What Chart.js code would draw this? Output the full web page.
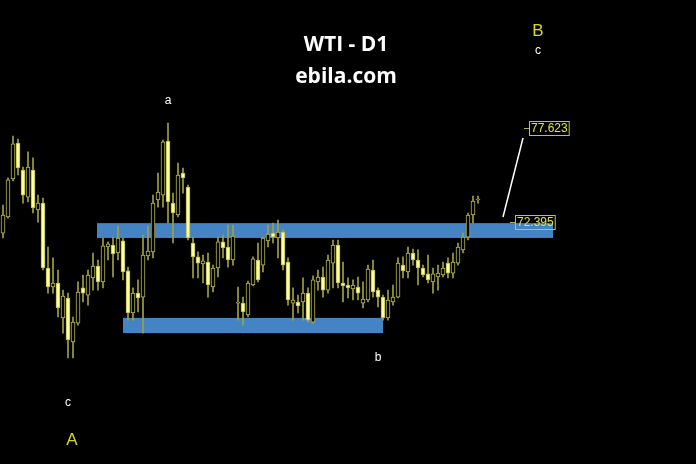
<!DOCTYPE html>
<html>
<head>
<meta charset="utf-8">
<title>WTI - D1</title>
<script src="https://cdn.jsdelivr.net/npm/chart.js@4.4.1/dist/chart.umd.min.js"></script>
<style>
  html, body { margin: 0; padding: 0; background: #000; }
  #wrap { position: relative; width: 696px; height: 464px; }
</style>
</head>
<body>
<div id="wrap"><canvas id="chart"></canvas></div>
<script>
// daily WTI candles
const opens = [71.79,72.68,74.78,76.77,75.28,73.78,75.28,73.07,73.45,69.86, 68.81,69.03,67.10,68.20,65.77,66.81,68.76,68.36,69.31,69.97,
  69.09,71.02,71.13,70.69,71.36,69.70,67.37,68.47,68.25,70.53, 70.75,73.62,73.89,76.88,73.45,72.79,75.11,74.34,71.24,70.47,
  70.08,70.19,68.81,69.86,71.30,71.02,70.30,67.92,67.92,67.26, 68.92,70.30,70.02,71.36,71.79,71.52,71.85,70.19,67.92,67.98,
  67.98,68.47,66.87,69.09,69.36,68.64,70.13,71.13,69.03,68.92, 68.70,68.81,67.92,68.09,69.75,68.64,68.25,67.10,67.98,68.25,
  70.02,69.64,70.69,70.30,69.86,69.53,69.09,69.36,69.47,70.13, 69.58,70.13,70.86,71.57,72.79,73.62];
const highs = [73.34,74.84,77.16,76.99,75.44,76.28,75.95,73.89,73.73,71.02, 70.42,69.75,68.64,68.47,67.15,69.09,69.47,69.75,70.69,70.30,
  71.52,71.30,71.57,72.18,71.52,69.91,68.76,69.20,71.68,72.18, 73.89,75.11,76.94,77.87,74.00,75.66,75.39,74.45,71.57,70.75,
  70.58,70.69,70.02,71.57,71.68,72.23,72.23,68.81,68.25,69.14, 70.47,71.24,71.57,72.23,72.34,72.51,71.96,70.42,68.76,68.36,
  69.31,68.76,69.42,69.75,69.91,70.58,71.41,71.41,70.19,69.31, 69.20,69.36,69.09,70.02,70.30,68.76,68.36,68.64,68.92,70.42,
  70.47,71.02,70.91,70.86,70.02,70.58,69.86,70.02,70.19,70.42, 70.69,71.24,71.79,72.90,73.84,73.84];
const lows = [71.52,72.63,74.68,75.00,73.45,73.51,72.90,72.40,69.75,68.47, 68.47,67.15,66.26,64.89,64.89,66.70,67.98,67.81,68.64,68.64,
  68.76,70.30,69.36,70.30,69.20,66.98,66.98,67.43,66.26,70.30, 70.42,73.23,73.23,72.34,71.24,72.68,74.00,71.41,69.31,69.31,
  69.03,68.25,68.53,69.36,70.42,69.91,70.02,66.98,66.70,67.15, 68.87,69.09,69.64,71.02,71.24,70.42,69.75,67.81,66.98,67.37,
  66.98,66.87,66.81,68.64,68.25,68.47,68.76,68.76,67.98,68.20, 68.09,68.09,67.65,67.98,68.25,67.70,66.98,66.98,67.81,68.20,
  69.31,69.31,70.02,68.92,69.36,69.03,68.47,68.64,69.36,69.31, 69.31,70.02,70.69,71.41,72.34,73.45];
const closes = [72.79,74.73,76.72,75.39,73.89,75.44,73.18,73.45,69.86,68.81, 69.03,67.65,68.31,65.88,66.87,68.53,68.47,69.47,69.97,69.09,
  71.08,71.19,70.64,71.52,69.64,67.37,68.47,68.20,70.58,70.80, 73.45,74.06,76.83,73.51,72.90,75.00,74.84,71.52,70.47,70.13,
  70.25,68.92,69.86,71.30,70.97,70.30,71.63,67.98,67.43,69.03, 70.36,69.20,71.52,71.74,71.57,71.85,70.02,68.09,68.09,67.76,
  68.47,66.98,69.20,69.36,68.64,70.30,71.13,69.03,68.87,68.76, 68.92,68.47,68.14,69.80,68.53,68.25,67.10,68.09,68.25,70.13,
  69.70,70.69,70.30,69.86,69.47,69.20,69.53,69.58,69.86,69.58, 70.19,71.02,71.57,72.79,73.56,73.67];

// supply / demand zones: [fromBar, toBar, lowPrice, highPrice]
const zones = [
  [18.8, 110.0, 71.52, 72.34],
  [24.0, 76.0, 66.26, 67.10]
];
// projection line: [bar, price] -> [bar, price]
const projection = [[100.0, 72.68], [104.0, 77.05]];
// price tags: [bar, price, text]
const priceTags = [
  [104.2, 77.60, "77.623"],
  [101.4, 72.38, "72.395"]
];
// wave labels: [bar, price, text, big]
const waveLabels = [
  [33.0, 79.09, "a", false],
  [75.0, 64.88, "b", false],
  [13.0, 62.39, "c", false],
  [13.8, 60.35, "A", true],
  [107.0, 82.97, "B", true],
  [107.0, 81.86, "c", false]
];

const bullFill = "#000000";
const bearFill = "#ffffa0";
const bodyEdge = "#b8b84e";
const wickColor = "#a0a042";
const zoneColor = "#4483c4";
const tagColor = "#e4e43a";

const bars = opens.map((o, i) => i);

const overlay = {
  id: "overlay",
  beforeDatasetsDraw(chart) {
    const ctx = chart.ctx;
    const xs = chart.scales.x, ys = chart.scales.y;
    ctx.save();
    ctx.fillStyle = zoneColor;
    zones.forEach(z => {
      const x1 = xs.getPixelForValue(z[0]), x2 = xs.getPixelForValue(z[1]);
      const y1 = ys.getPixelForValue(z[3]), y2 = ys.getPixelForValue(z[2]);
      ctx.fillRect(x1, y1, x2 - x1, y2 - y1);
    });
    ctx.restore();
  },
  afterDatasetsDraw(chart) {
    const ctx = chart.ctx;
    const xs = chart.scales.x, ys = chart.scales.y;
    ctx.save();

    // title
    ctx.fillStyle = "#ffffff";
    ctx.textAlign = "center";
    ctx.textBaseline = "middle";
    ctx.font = "bold 21px 'Open Sans'";
    ctx.fillText("WTI - D1", 346, 45);
    ctx.fillText("ebila.com", 346, 77);

    // projection line
    ctx.strokeStyle = "#ffffff";
    ctx.lineWidth = 1.5;
    ctx.beginPath();
    ctx.moveTo(xs.getPixelForValue(projection[0][0]), ys.getPixelForValue(projection[0][1]));
    ctx.lineTo(xs.getPixelForValue(projection[1][0]), ys.getPixelForValue(projection[1][1]));
    ctx.stroke();

    // price tags
    ctx.font = "12px 'Liberation Sans'";
    ctx.textAlign = "left";
    priceTags.forEach(t => {
      const x = Math.round(xs.getPixelForValue(t[0]));
      const y = Math.round(ys.getPixelForValue(t[1]));
      ctx.strokeStyle = "#b0b040";
      ctx.lineWidth = 1;
      ctx.beginPath();
      ctx.moveTo(x, y + 0.5);
      ctx.lineTo(x + 5, y + 0.5);
      ctx.stroke();
      const w = ctx.measureText(t[2]).width + 3;
      ctx.strokeStyle = "#c4c43c";
      ctx.strokeRect(x + 5.5, y - 6.5, w, 14);
      ctx.fillStyle = tagColor;
      ctx.fillText(t[2], x + 7, y + 1);
    });

    // wave labels
    ctx.textAlign = "center";
    waveLabels.forEach(l => {
      ctx.font = l[3] ? "17px 'Liberation Sans'" : "12px 'Liberation Sans'";
      ctx.fillStyle = l[3] ? "#d8d828" : "#ffffff";
      ctx.fillText(l[2], xs.getPixelForValue(l[0]), ys.getPixelForValue(l[1]));
    });
    ctx.restore();
  }
};

new Chart(document.getElementById("chart"), {
  type: "bar",
  data: {
    datasets: [
      {
        label: "body",
        data: bars.map(i => ({ x: i, y: [opens[i], closes[i]] })),
        backgroundColor: bars.map(i => closes[i] >= opens[i] ? bullFill : bearFill),
        borderColor: bodyEdge,
        borderWidth: 1,
        borderSkipped: false,
        barThickness: 4,
        minBarLength: 1,
        grouped: false,
        order: 0
      },
      {
        label: "wick",
        data: bars.map(i => ({ x: i, y: [lows[i], highs[i]] })),
        backgroundColor: wickColor,
        borderWidth: 0,
        barThickness: 1,
        grouped: false,
        order: 1
      }
    ]
  },
  options: {
    responsive: true,
    maintainAspectRatio: false,
    animation: false,
    layout: { padding: 0 },
    plugins: {
      legend: { display: false },
      tooltip: { enabled: false }
    },
    scales: {
      x: { type: "linear", min: -0.6, max: 138.6, offset: false, grid: { offset: false }, display: false },
      y: { min: 59.02, max: 84.68, display: false }
    }
  },
  plugins: [overlay]
});
</script>
</body>
</html>
